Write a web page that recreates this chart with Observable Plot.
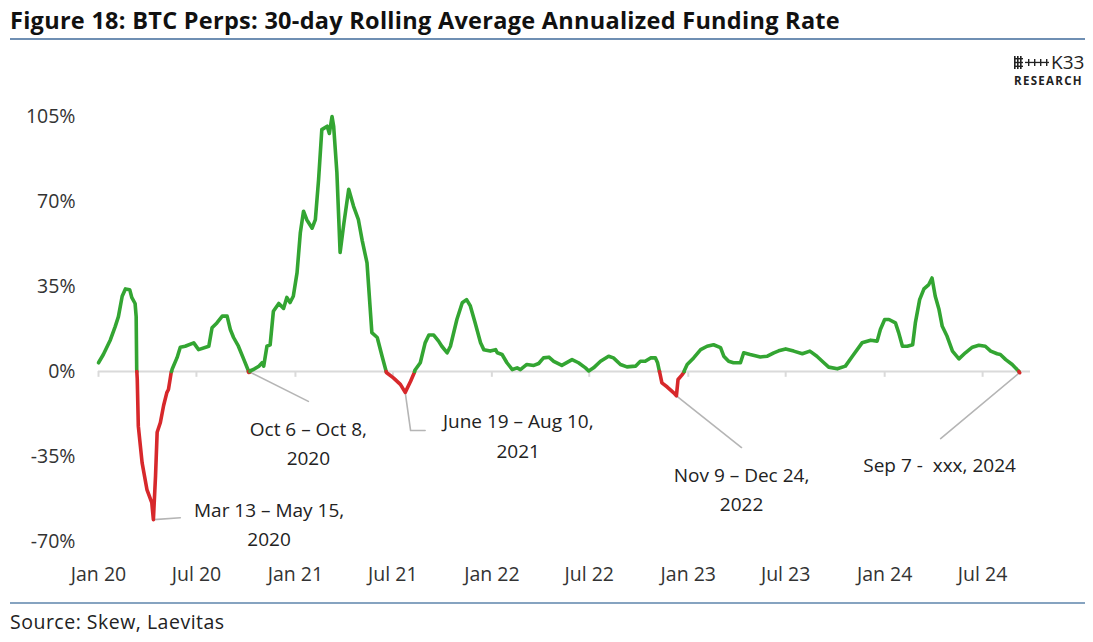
<!DOCTYPE html>
<html>
<head>
<meta charset="utf-8">
<script src="https://cdn.jsdelivr.net/npm/d3@7"></script>
<script src="https://cdn.jsdelivr.net/npm/@observablehq/plot@0.6"></script>
<style>
  html, body { margin: 0; padding: 0; background: #fff; }
  body { width: 1093px; height: 642px; position: relative; overflow: hidden; font-family: "Open Sans", sans-serif; color: #222; }
  #title { position: absolute; left: 10px; top: 4px; font-size: 23.5px; font-weight: 700; color: #111; white-space: nowrap; }
  #rule1 { position: absolute; left: 10px; top: 38px; width: 1075px; height: 2px; background: #6f8fb3; }
  #chart { position: absolute; left: 0; top: 45px; }
  #logo { position: absolute; left: 1014px; top: 53px; width: 78px; }
  #logo .k { font-size: 19px; line-height: 18px; color: #222; display: flex; align-items: center; gap: 2px; }
  #logo .r { font-size: 11.5px; font-weight: 700; letter-spacing: 1.3px; color: #222; margin-top: 2px; }
  #rule2 { position: absolute; left: 10px; top: 602px; width: 1075px; height: 2px; background: #86a3c0; }
  #source { position: absolute; left: 10px; top: 608px; font-size: 19.5px; letter-spacing: 0.5px; color: #222; }
</style>
</head>
<body>
<div id="title">Figure 18: BTC Perps: 30-day Rolling Average Annualized Funding Rate</div>
<div id="rule1"></div>
<div id="logo">
  <div class="k"><svg width="35" height="13" viewBox="0 0 35 13">
    <g fill="#222">
      <rect x="0" y="0" width="1.6" height="13"/><rect x="3" y="0" width="1.6" height="13"/><rect x="6" y="0" width="1.6" height="13"/>
      <rect x="0" y="2" width="9" height="1.4"/><rect x="0" y="5.8" width="9" height="1.4"/><rect x="0" y="9.6" width="9" height="1.4"/>
      <rect x="11" y="5.8" width="24" height="1.3"/>
      <rect x="14" y="3" width="1.4" height="7"/><rect x="20" y="3" width="1.4" height="7"/><rect x="26" y="3" width="1.4" height="7"/><rect x="32" y="3" width="1.4" height="7"/>
    </g></svg><span>K33</span></div>
  <div class="r">RESEARCH</div>
</div>
<div id="chart"></div>
<div id="rule2"></div>
<div id="source">Source: Skew, Laevitas</div>
<script>
// ---- data ----
const dates = [
"2020-01-01","2020-01-10","2020-01-23","2020-02-01","2020-02-07","2020-02-14","2020-02-20","2020-02-28","2020-03-03","2020-03-09",
"2020-03-11","2020-03-12","2020-03-13","2020-03-15","2020-03-22","2020-03-31","2020-04-09","2020-04-12","2020-04-16","2020-04-19",
"2020-04-25","2020-05-01","2020-05-07","2020-05-10","2020-05-13","2020-05-15","2020-05-17","2020-05-26","2020-06-01","2020-06-10",
"2020-06-26","2020-07-05","2020-07-24","2020-07-30","2020-08-08","2020-08-18","2020-08-27","2020-09-02","2020-09-08","2020-09-17",
"2020-09-27","2020-10-05","2020-10-06","2020-10-08","2020-10-09","2020-10-15","2020-10-25","2020-10-31","2020-11-03","2020-11-09",
"2020-11-15","2020-11-21","2020-12-01","2020-12-10","2020-12-16","2020-12-22","2020-12-28","2021-01-04","2021-01-10","2021-01-16",
"2021-01-22","2021-02-01","2021-02-07","2021-02-13","2021-02-19","2021-03-01","2021-03-05","2021-03-10","2021-03-13","2021-03-19",
"2021-03-25","2021-04-01","2021-04-10","2021-04-19","2021-04-28","2021-05-05","2021-05-14","2021-05-23","2021-06-02","2021-06-11",
"2021-06-18","2021-06-19","2021-07-02","2021-07-15","2021-07-24","2021-08-03","2021-08-10","2021-08-11","2021-08-21","2021-08-30",
"2021-09-06","2021-09-15","2021-09-24","2021-09-30","2021-10-10","2021-10-16","2021-10-28","2021-11-07","2021-11-15","2021-11-22",
"2021-12-01","2021-12-11","2021-12-17","2021-12-29","2022-01-08","2022-01-11","2022-01-20","2022-01-29","2022-02-08","2022-02-17",
"2022-02-23","2022-03-07","2022-03-20","2022-03-29","2022-04-07","2022-04-17","2022-04-26","2022-05-11","2022-05-30","2022-06-11",
"2022-06-24","2022-06-30","2022-07-09","2022-07-22","2022-08-06","2022-08-15","2022-08-28","2022-09-09","2022-09-25","2022-10-04",
"2022-10-13","2022-10-23","2022-11-01","2022-11-05","2022-11-08","2022-11-09","2022-11-13","2022-11-23","2022-12-05","2022-12-10",
"2022-12-13","2022-12-20","2022-12-24","2022-12-25","2022-12-30","2023-01-11","2023-01-24","2023-02-05","2023-02-17","2023-03-02",
"2023-03-08","2023-03-17","2023-03-26","2023-04-08","2023-04-14","2023-04-26","2023-05-15","2023-05-28","2023-06-09","2023-06-18",
"2023-07-01","2023-07-16","2023-08-01","2023-08-15","2023-08-28","2023-09-10","2023-09-19","2023-10-05","2023-10-20","2023-11-02",
"2023-11-20","2023-12-06","2023-12-18","2023-12-24","2024-01-01","2024-01-09","2024-01-21","2024-01-27","2024-02-03","2024-02-12",
"2024-02-22","2024-02-27","2024-03-06","2024-03-14","2024-03-23","2024-03-29","2024-04-04","2024-04-11","2024-04-17","2024-04-26",
"2024-05-06","2024-05-18","2024-05-30","2024-06-12","2024-06-24","2024-07-06","2024-07-16","2024-07-28","2024-08-03","2024-08-13",
"2024-08-25","2024-09-03","2024-09-06","2024-09-07","2024-09-08"
];
const fundingRate = [
3.6,7,13,18.5,22.6,31,34,33.7,30.4,28,
22.6,1,-3,-22.5,-37.5,-48.6,-54,-61,-43,-25,
-21,-14,-8.7,-7.4,-3.3,-0.5,1,5.7,10,10.4,
11.8,9,10.4,18,20,22.8,22.8,17.3,14,10.4,
5,0.6,-0.4,-0.3,0.3,0.8,2.2,3.6,2.2,10.4,
11,24.8,28,26,30.5,28.4,31,40.7,57,66,
62.5,59,62.5,79,99.6,101,98,105,101,82,
49,61,75,68,62.5,54,44.7,16,14,6.3,
0.5,-0.4,-2.6,-5.3,-8.6,-4,-0.4,0.5,3.6,11.8,
15,15,12.5,10.4,7.7,10.4,21.4,28.3,29.6,27,
20,11.8,9,8.4,9,7.7,7,3.6,0.8,1.5,
0.8,2.9,2.5,3.3,5.6,5.9,4.2,2.5,4.9,3.6,
1.5,0.2,1.5,4.2,6.3,5.6,2.9,1.9,2.2,4.2,
4.2,5.6,5.6,3.6,0.5,-0.5,-4.7,-6.4,-8.8,-10,
-3.3,-1.5,-0.3,0.5,2.9,5.6,9,10.4,11,9.8,
6.3,4.2,3.6,3.6,7.7,7,6,6.3,7.7,8.5,
9.3,8.4,7.3,8.4,6.3,3.6,1.8,1.1,2.2,6.3,
11.8,12.9,12.5,17.3,21.4,21.4,20,16,10.4,10.4,
11,20,29.6,34,35.8,38.5,31,25.5,18.6,14.5,
8.4,5.2,7.7,10,10.8,10.4,8.4,7.3,7,4.9,
2.9,0.8,0.2,-0.3,-0.5
];
const xTickDates = ["2020-01-01","2020-07-01","2021-01-01","2021-07-01","2022-01-01","2022-07-01","2023-01-01","2023-07-01","2024-01-01","2024-07-01"];
const yTickValues = [-70, -35, 0, 35, 70, 105];

// annotations
const annLabels = ["Mar 13 \u2013 May 15,\n2020", "Oct 6 \u2013 Oct 8,\n2020", "June 19 \u2013 Aug 10,\n2021", "Nov 9 \u2013 Dec 24,\n2022", "Sep 7 -\u00a0 xxx, 2024"];
const annDates = ["2020-11-13", "2021-01-25", "2022-02-19", "2023-04-10", "2024-04-12"];
const annValues = [-61.9, -28.7, -25.5, -47.5, -37.4];
// leader lines (polyline id, date, value)
const leaderIds = [0, 0, 1, 1, 2, 2, 2, 3, 3, 4, 4];
const leaderDates = ["2020-04-13", "2020-06-01", "2020-10-06", "2021-01-25", "2021-07-24", "2021-08-03", "2021-08-30", "2022-12-10", "2023-04-10", "2024-09-08", "2024-04-14"];
const leaderValues = [-61, -60.2, 0, -12.3, -8.6, -24.3, -24.3, -10, -31.3, -0.4, -27.6];

// ---- build tables ----
const GREEN = "#33a532", RED = "#d7282b";
const pts = dates.map((d, i) => ({date: new Date(d), v: fundingRate[i]}));
const segs = [];
let seg = 0;
pts.forEach((p, i) => {
  if (i > 0) {
    const q = pts[i - 1];
    if ((q.v < 0) !== (p.v < 0)) {
      const t = q.v / (q.v - p.v);
      const cd = new Date(+q.date + t * (p.date - q.date));
      segs.push({date: cd, v: 0, seg, neg: q.v < 0});
      seg++;
      segs.push({date: cd, v: 0, seg, neg: p.v < 0});
    }
  }
  segs.push({date: p.date, v: p.v, seg, neg: p.v < 0});
});
const ann = annLabels.map((t, i) => ({text: t, date: new Date(annDates[i]), v: annValues[i]}));
const leaders = leaderIds.map((id, i) => ({id, date: new Date(leaderDates[i]), v: leaderValues[i]}));
const xTicks = xTickDates.map(d => new Date(d));
const fmt = d3.utcFormat("%b %y");

const chart = Plot.plot({
  width: 1093,
  height: 555,
  marginLeft: 98,
  marginRight: 63,
  marginTop: 71,
  marginBottom: 59,
  x: {type: "utc", domain: [new Date("2020-01-01"), new Date("2024-09-28")], label: null},
  y: {domain: [-70, 105], label: null},
  style: {fontFamily: "'Open Sans', sans-serif", fontSize: "19px", color: "#333", background: "transparent"},
  marks: [
    Plot.ruleY([0], {stroke: "#dadada", strokeWidth: 2}),
    Plot.ruleX(xTicks, {x: d => d, y1: 0, y2: -2.4, stroke: "#dadada", strokeWidth: 2}),
    Plot.axisY({ticks: yTickValues, tickFormat: d => d + "%", tickSize: 0, tickPadding: 23, fontSize: 19.5, letterSpacing: "0.8px"}),
    Plot.axisX({ticks: xTicks, tickFormat: fmt, tickSize: 0, tickPadding: 26, fontSize: 19.5, letterSpacing: "1.1px"}),
    Plot.line(leaders, {x: "date", y: "v", z: "id", stroke: "#b5b5b5", strokeWidth: 1.6}),
    Plot.line(segs, {x: "date", y: "v", z: "seg", stroke: d => d.neg ? RED : GREEN, strokeWidth: 3.6, strokeLinejoin: "round", strokeLinecap: "round"}),
    Plot.text(ann, {x: "date", y: "v", text: "text", lineAnchor: "middle", textAnchor: "middle", lineHeight: 1.55, fontSize: 19, letterSpacing: "0.4px", fill: "#222"})
  ]
});
document.getElementById("chart").appendChild(chart);

// fit the title to the reference width
const title = document.getElementById("title");
const target = 830, w = title.getBoundingClientRect().width;
const n = title.textContent.length;
title.style.letterSpacing = ((target - w) / n) + "px";
</script>
</body>
</html>
